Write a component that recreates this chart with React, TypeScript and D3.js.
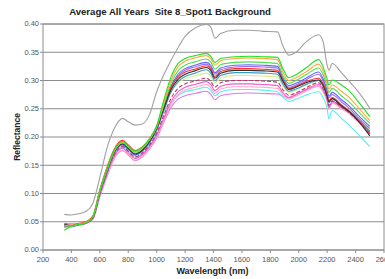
import { useMemo } from "react";
import * as d3 from "d3";

const WIDTH = 385;
const HEIGHT = 279;
const MARGIN = { top: 24, right: 1, bottom: 29, left: 43 };

const TITLE = "Average All Years  Site 8_Spot1 Background";
const X_TITLE = "Wavelength (nm)";
const Y_TITLE = "Reflectance";

const xTicks = [200, 400, 600, 800, 1000, 1200, 1400, 1600, 1800, 2000, 2200, 2400, 2600];
const yTicks = [0, 0.05, 0.1, 0.15, 0.2, 0.25, 0.3, 0.35, 0.4];

// wavelengths (nm) where each spectrum is sampled
const wavelengths = [
  350, 400, 450, 500, 550, 600, 650, 700, 760, 800, 850, 900, 950, 1000, 1050, 1100, 1150, 1200, 1270, 1350,
  1380, 1410, 1450, 1550, 1650, 1750, 1850, 1890, 1930, 1980, 2050, 2140, 2170, 2200, 2212, 2235, 2300, 2350,
  2420, 2500,
];

const greenA = [
  0.035, 0.042, 0.045, 0.048, 0.058, 0.105, 0.143, 0.176, 0.192, 0.184, 0.175, 0.182, 0.197, 0.22, 0.265, 0.306,
  0.33, 0.339, 0.344, 0.348, 0.343, 0.332, 0.339, 0.342, 0.343, 0.342, 0.341, 0.32, 0.305, 0.31, 0.322, 0.337,
  0.325, 0.302, 0.292, 0.301, 0.292, 0.283, 0.262, 0.236,
];
const orange = [
  0.043, 0.043, 0.046, 0.049, 0.058, 0.104, 0.142, 0.175, 0.191, 0.183, 0.174, 0.181, 0.196, 0.218, 0.26, 0.3,
  0.324, 0.334, 0.34, 0.344, 0.339, 0.327, 0.335, 0.339, 0.34, 0.339, 0.337, 0.314, 0.3, 0.305, 0.315, 0.329,
  0.318, 0.295, 0.285, 0.292, 0.281, 0.271, 0.252, 0.229,
];
const greenB = [
  0.04, 0.042, 0.045, 0.048, 0.058, 0.104, 0.142, 0.174, 0.19, 0.182, 0.173, 0.18, 0.195, 0.217, 0.256, 0.294,
  0.317, 0.327, 0.333, 0.338, 0.333, 0.32, 0.328, 0.332, 0.333, 0.332, 0.33, 0.308, 0.295, 0.3, 0.31, 0.322,
  0.311, 0.289, 0.279, 0.286, 0.273, 0.263, 0.245, 0.224,
];
const blue = [
  0.042, 0.042, 0.045, 0.048, 0.057, 0.102, 0.14, 0.172, 0.187, 0.179, 0.169, 0.176, 0.191, 0.214, 0.252, 0.289,
  0.311, 0.321, 0.327, 0.332, 0.327, 0.314, 0.322, 0.327, 0.328, 0.327, 0.325, 0.304, 0.291, 0.295, 0.304, 0.315,
  0.304, 0.282, 0.272, 0.279, 0.266, 0.256, 0.238, 0.219,
];
const purple = [
  0.042, 0.042, 0.045, 0.048, 0.057, 0.101, 0.139, 0.171, 0.186, 0.178, 0.168, 0.175, 0.19, 0.213, 0.25, 0.286,
  0.308, 0.318, 0.324, 0.329, 0.324, 0.311, 0.319, 0.324, 0.325, 0.324, 0.322, 0.301, 0.288, 0.292, 0.301, 0.311,
  0.3, 0.279, 0.269, 0.275, 0.262, 0.252, 0.234, 0.215,
];
const red = [
  0.047, 0.046, 0.047, 0.05, 0.06, 0.107, 0.146, 0.178, 0.194, 0.186, 0.176, 0.183, 0.197, 0.219, 0.255, 0.287,
  0.306, 0.315, 0.32, 0.326, 0.321, 0.307, 0.316, 0.321, 0.321, 0.32, 0.318, 0.3, 0.286, 0.29, 0.298, 0.304,
  0.295, 0.275, 0.264, 0.27, 0.257, 0.247, 0.229, 0.205,
];
const teal = [
  0.043, 0.042, 0.045, 0.048, 0.057, 0.101, 0.139, 0.171, 0.186, 0.178, 0.168, 0.175, 0.19, 0.212, 0.246, 0.279,
  0.298, 0.307, 0.313, 0.319, 0.313, 0.3, 0.309, 0.314, 0.314, 0.313, 0.311, 0.293, 0.281, 0.285, 0.293, 0.3,
  0.291, 0.271, 0.261, 0.268, 0.256, 0.247, 0.231, 0.21,
];
const black = [
  0.045, 0.043, 0.045, 0.048, 0.057, 0.102, 0.14, 0.172, 0.188, 0.18, 0.17, 0.177, 0.192, 0.215, 0.25, 0.283,
  0.302, 0.311, 0.317, 0.323, 0.318, 0.304, 0.313, 0.318, 0.318, 0.317, 0.315, 0.298, 0.284, 0.288, 0.296, 0.301,
  0.292, 0.272, 0.262, 0.268, 0.255, 0.246, 0.228, 0.202,
];
const yellowGreen = [
  0.042, 0.043, 0.046, 0.049, 0.058, 0.103, 0.142, 0.174, 0.19, 0.182, 0.172, 0.179, 0.194, 0.215, 0.248, 0.279,
  0.296, 0.303, 0.308, 0.313, 0.308, 0.296, 0.304, 0.309, 0.309, 0.308, 0.306, 0.29, 0.279, 0.283, 0.292, 0.3,
  0.291, 0.272, 0.262, 0.269, 0.257, 0.248, 0.232, 0.212,
];
const maroon = [
  0.044, 0.043, 0.045, 0.048, 0.056, 0.099, 0.136, 0.168, 0.183, 0.175, 0.165, 0.172, 0.186, 0.207, 0.238, 0.268,
  0.286, 0.294, 0.299, 0.304, 0.299, 0.288, 0.296, 0.3, 0.3, 0.299, 0.297, 0.283, 0.274, 0.278, 0.287, 0.296,
  0.287, 0.268, 0.256, 0.264, 0.253, 0.244, 0.228, 0.207,
];
const pink = [
  0.043, 0.042, 0.044, 0.047, 0.055, 0.097, 0.134, 0.165, 0.18, 0.172, 0.162, 0.169, 0.183, 0.203, 0.233, 0.262,
  0.28, 0.288, 0.293, 0.298, 0.293, 0.282, 0.29, 0.294, 0.294, 0.293, 0.291, 0.278, 0.27, 0.275, 0.284, 0.293,
  0.284, 0.266, 0.252, 0.263, 0.253, 0.245, 0.229, 0.21,
];
const lightPink = [
  0.042, 0.042, 0.044, 0.047, 0.054, 0.095, 0.131, 0.162, 0.177, 0.169, 0.159, 0.166, 0.18, 0.2, 0.229, 0.257,
  0.275, 0.283, 0.288, 0.293, 0.288, 0.277, 0.285, 0.289, 0.289, 0.288, 0.286, 0.274, 0.267, 0.272, 0.281, 0.29,
  0.281, 0.263, 0.25, 0.26, 0.25, 0.242, 0.226, 0.208,
];
const cyan = [
  0.041, 0.041, 0.044, 0.047, 0.055, 0.098, 0.135, 0.167, 0.182, 0.174, 0.164, 0.171, 0.185, 0.204, 0.232, 0.258,
  0.273, 0.28, 0.284, 0.288, 0.283, 0.273, 0.28, 0.284, 0.284, 0.283, 0.28, 0.27, 0.263, 0.267, 0.274, 0.28,
  0.27, 0.25, 0.232, 0.247, 0.233, 0.222, 0.204, 0.183,
];
const violet = [
  0.042, 0.042, 0.044, 0.047, 0.054, 0.094, 0.13, 0.161, 0.176, 0.168, 0.158, 0.165, 0.179, 0.198, 0.226, 0.252,
  0.267, 0.273, 0.277, 0.281, 0.276, 0.266, 0.273, 0.277, 0.278, 0.277, 0.276, 0.272, 0.27, 0.275, 0.283, 0.29,
  0.281, 0.264, 0.252, 0.262, 0.252, 0.244, 0.229, 0.212,
];
const gray = [
  0.063, 0.062, 0.064, 0.068, 0.082, 0.128, 0.18, 0.214, 0.233, 0.227, 0.221, 0.223, 0.24, 0.28, 0.31, 0.335,
  0.358, 0.378, 0.393, 0.399, 0.395, 0.375, 0.383, 0.389, 0.389, 0.387, 0.386, 0.36, 0.345, 0.35, 0.368, 0.381,
  0.37, 0.327, 0.318, 0.33, 0.314, 0.3, 0.28, 0.251,
];

const series = [
  { name: "violet", values: violet, color: "#dd77f2", dash: "" },
  { name: "cyan", values: cyan, color: "#55eef5", dash: "" },
  { name: "lightPink", values: lightPink, color: "#ffa6d0", dash: "" },
  { name: "pink", values: pink, color: "#f060c8", dash: "" },
  { name: "maroon", values: maroon, color: "#c8306a", dash: "4,2" },
  { name: "yellowGreen", values: yellowGreen, color: "#d2f08a", dash: "" },
  { name: "teal", values: teal, color: "#3a9ac0", dash: "" },
  { name: "purple", values: purple, color: "#a070f0", dash: "" },
  { name: "blue", values: blue, color: "#6464ff", dash: "" },
  { name: "red", values: red, color: "#ff3030", dash: "" },
  { name: "black", values: black, color: "#303030", dash: "" },
  { name: "greenB", values: greenB, color: "#50e050", dash: "" },
  { name: "orange", values: orange, color: "#ffaa40", dash: "" },
  { name: "greenA", values: greenA, color: "#22e022", dash: "" },
  { name: "gray", values: gray, color: "#a0a0a0", dash: "" },
];

const FONT = "'Liberation Sans', Arial, sans-serif";

export default function App() {
  const boundsWidth = WIDTH - MARGIN.left - MARGIN.right;
  const boundsHeight = HEIGHT - MARGIN.top - MARGIN.bottom;

  const xScale = useMemo(() => d3.scaleLinear().domain([200, 2600]).range([0, boundsWidth]), [boundsWidth]);
  const yScale = useMemo(() => d3.scaleLinear().domain([0, 0.4]).range([boundsHeight, 0]), [boundsHeight]);

  const lineGen = d3
    .line<number>()
    .x((_, i) => xScale(wavelengths[i]))
    .y((d) => yScale(d))
    .curve(d3.curveMonotoneX);

  return (
    <svg
      width={WIDTH}
      height={HEIGHT}
      style={{ position: "absolute", left: 0, top: 0, background: "#fff" }}
      fontFamily={FONT}
    >
      <text
        x={170}
        y={15}
        textAnchor="middle"
        fontSize={9.6}
        fontWeight="bold"
        fill="#222"
        style={{ whiteSpace: "pre" }}
      >
        {TITLE}
      </text>
      <g transform={`translate(${MARGIN.left},${MARGIN.top})`}>
        {/* horizontal grid */}
        {yTicks.map((t) => (
          <line
            key={"g" + t}
            x1={0}
            x2={boundsWidth}
            y1={yScale(t)}
            y2={yScale(t)}
            stroke="#8c8c8c"
            strokeWidth={1}
          />
        ))}
        <rect x={0} y={0} width={boundsWidth} height={boundsHeight} fill="none" stroke="#8c8c8c" />

        {series.map((s) => (
          <path
            key={s.name}
            d={lineGen(s.values) ?? ""}
            fill="none"
            stroke={s.color}
            strokeWidth={1.1}
            strokeDasharray={s.dash || undefined}
          />
        ))}

        {/* y axis */}
        {yTicks.map((t) => (
          <g key={"y" + t} transform={`translate(0,${yScale(t)})`}>
            <line x1={-3} x2={0} stroke="#8c8c8c" />
            <text x={-4} dy="0.32em" textAnchor="end" fontSize={7.5} fill="#555">
              {t.toFixed(2)}
            </text>
          </g>
        ))}
        {/* x axis */}
        {xTicks.map((t) => (
          <g key={"x" + t} transform={`translate(${xScale(t)},${boundsHeight})`}>
            <line y1={0} y2={3} stroke="#8c8c8c" />
            <text y={12} textAnchor="middle" fontSize={7.5} fill="#555">
              {t}
            </text>
          </g>
        ))}
        <text
          x={boundsWidth / 2 - 1}
          y={boundsHeight + 24}
          textAnchor="middle"
          fontSize={9}
          fontWeight="bold"
          fill="#222"
        >
          {X_TITLE}
        </text>
        <text
          transform={`translate(${-23},${boundsHeight / 2}) rotate(-90)`}
          textAnchor="middle"
          fontSize={8.5}
          fontWeight="bold"
          fill="#222"
        >
          {Y_TITLE}
        </text>
      </g>
    </svg>
  );
}
